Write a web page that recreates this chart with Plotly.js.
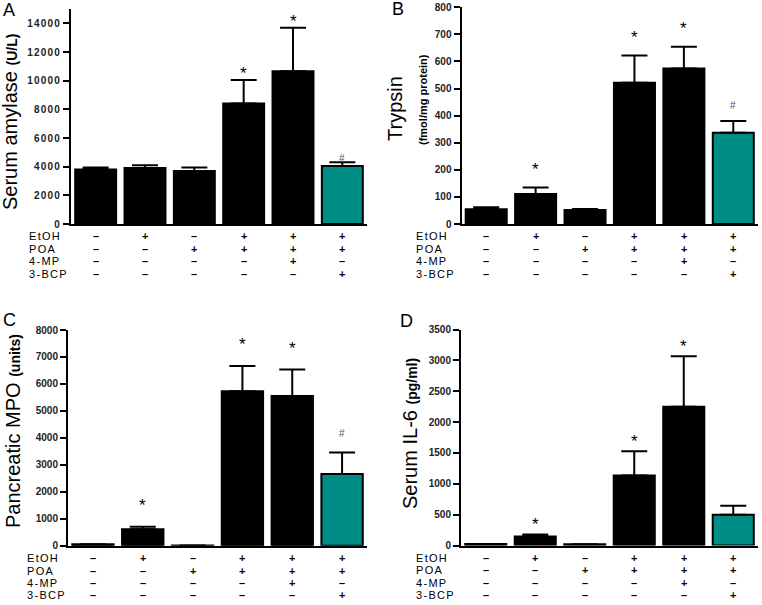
<!DOCTYPE html>
<html>
<head>
<meta charset="utf-8">
<script src="https://cdn.plot.ly/plotly-3.0.1.min.js"></script>
<style>
  body { margin: 0; padding: 0; background: #fff; }
  #chart { width: 762px; height: 605px; }
  .ytick text { letter-spacing: 1.2px; }
</style>
</head>
<body>
<div id="chart"></div>
<script>
// ---------- data ----------
const groups = ['Control', 'EtOH', 'POA', 'EtOH+POA', 'EtOH+POA+4-MP', 'EtOH+POA+3-BCP'];
const rowNames = ['EtOH', 'POA', '4-MP', '3-BCP'];
const etohRow = ['–', '+', '–', '+', '+', '+'];
const poaRow  = ['–', '–', '+', '+', '+', '+'];
const mpRow   = ['–', '–', '–', '–', '+', '–'];
const bcpRow  = ['–', '–', '–', '–', '–', '+'];

const amylaseMean = [3800, 3900, 3700, 8400, 10650, 4050];
const amylaseErr  = [150, 200, 250, 1650, 3050, 250];
const amylaseSig  = ['', '', '', '*', '*', '#'];

const trypsinMean = [54, 111, 52, 521, 574, 337];
const trypsinErr  = [8, 24, 3, 101, 80, 43];
const trypsinSig  = ['', '*', '', '*', '*', '#'];

const mpoMean = [50, 607, 5, 5730, 5556, 2655];
const mpoErr  = [0, 97, 0, 937, 977, 802];
const mpoSig  = ['', '*', '', '*', '*', '#'];

const il6Mean = [25, 146, 22, 1136, 2247, 498];
const il6Err  = [0, 33, 0, 390, 821, 146];
const il6Sig  = ['', '*', '', '*', '*', ''];

// ---------- styling ----------
const W = 762, H = 605;
const FONT = 'Arial, "Liberation Sans", sans-serif';
const BLACK = '#000000';
const TEAL = '#008d88';
const barColors = [BLACK, BLACK, BLACK, BLACK, BLACK, TEAL];
const rows = [etohRow, poaRow, mpRow, bcpRow];

const px2x = p => p / W;
const px2y = p => 1 - p / H;

const panels = [
  { letter: 'A', mean: amylaseMean, err: amylaseErr, sig: amylaseSig, range: [0, 15000], dtick: 2000,
    xPx: [71, 367], yPx: [224, 9], starShift: 6, rowLabelX: 28,
    letterPos: [8.5, 10],
    titles: [{ text: 'Serum amylase <span style="font-size:14px;font-weight:bold">(U/L)</span>', x: 10, y: 122 }] },
  { letter: 'B', mean: trypsinMean, err: trypsinErr, sig: trypsinSig, range: [0, 800], dtick: 100,
    xPx: [461.5, 758], yPx: [224, 7.3], starShift: 18, rowLabelX: 415,
    letterPos: [398, 9],
    titles: [{ text: 'Trypsin', x: 395, y: 109 },
             { text: '<b>(fmol/mg protein)</b>', x: 423, y: 100, size: 11 }] },
  { letter: 'C', mean: mpoMean, err: mpoErr, sig: mpoSig, range: [0, 8000], dtick: 1000,
    xPx: [68, 367], yPx: [545.7, 330], starShift: 21, rowLabelX: 26,
    letterPos: [9, 320],
    titles: [{ text: 'Pancreatic MPO <span style="font-size:14px;font-weight:bold">(units)</span>', x: 13, y: 431 }] },
  { letter: 'D', mean: il6Mean, err: il6Err, sig: il6Sig, range: [0, 3500], dtick: 500,
    xPx: [461, 758], yPx: [545.5, 329.5], starShift: 10, rowLabelX: 415,
    letterPos: [406, 321],
    titles: [{ text: 'Serum IL-6 <span style="font-size:14px;font-weight:bold">(pg/ml)</span>', x: 410, y: 434 }] }
];

const traces = [];
const annotations = [];
const layout = {
  width: W, height: H,
  margin: { l: 0, r: 0, t: 0, b: 0 },
  paper_bgcolor: '#ffffff', plot_bgcolor: '#ffffff',
  showlegend: false,
  bargap: 0.17,
  font: { family: FONT, color: '#000' },
  annotations: annotations
};

panels.forEach((p, i) => {
  const n = i === 0 ? '' : String(i + 1);
  const xa = 'x' + n, ya = 'y' + n;
  traces.push({
    type: 'bar', x: groups, y: p.mean, xaxis: xa, yaxis: ya,
    marker: { color: barColors, line: { color: BLACK, width: 2 } },
    error_y: { type: 'data', symmetric: false, array: p.err, arrayminus: p.err.map(() => 0),
               color: BLACK, thickness: 2, width: 13 },
    hoverinfo: 'skip'
  });
  layout['xaxis' + n] = {
    domain: [px2x(p.xPx[0]), px2x(p.xPx[1])], anchor: ya,
    type: 'category', categoryorder: 'array', categoryarray: groups,
    range: [-0.5, 5.5], showline: true, linecolor: BLACK, linewidth: 2,
    ticks: '', showticklabels: false, showgrid: false, zeroline: false, fixedrange: true
  };
  layout['yaxis' + n] = {
    domain: [px2y(p.yPx[0]), px2y(p.yPx[1])], anchor: xa,
    range: p.range, dtick: p.dtick, tick0: 0, tickformat: 'd',
    showline: true, linecolor: BLACK, linewidth: 2,
    ticks: 'outside', ticklen: 6, tickwidth: 2, tickcolor: BLACK,
    tickfont: { family: FONT, size: 10, weight: 'bold', color: '#222' },
    showgrid: false, zeroline: false, fixedrange: true
  };

  // significance markers
  p.sig.forEach((s, k) => {
    if (!s) return;
    annotations.push({
      xref: xa, yref: ya, x: groups[k], y: p.mean[k] + p.err[k],
      text: s, showarrow: false, xanchor: 'center', yanchor: 'middle',
      yshift: p.starShift + (s === '#' ? -2 : 0),
      font: s === '#' ? { family: FONT, size: 10, color: '#555' } : { family: FONT, size: 17, color: BLACK }
    });
  });

  // treatment rows
  rows.forEach((row, r) => {
    const yc = p.yPx[0] + 12.5 + r * 12.4;
    annotations.push({
      xref: 'paper', yref: 'paper', x: px2x(p.rowLabelX), y: px2y(yc),
      text: '<span style="letter-spacing:1.3px">' + rowNames[r] + '</span>',
      showarrow: false, xanchor: 'left', yanchor: 'middle', borderpad: 0,
      font: { family: FONT, size: 11, color: BLACK }
    });
    row.forEach((sgn, k) => {
      annotations.push({
        xref: xa, yref: 'paper', x: groups[k], y: px2y(yc),
        text: sgn, showarrow: false, xanchor: 'center', yanchor: 'middle', borderpad: 0,
        font: { family: FONT, size: 11, weight: 'bold', color: BLACK }
      });
    });
  });

  // axis titles
  p.titles.forEach(t => {
    annotations.push({
      xref: 'paper', yref: 'paper', x: px2x(t.x), y: px2y(t.y),
      text: t.text, textangle: -90, showarrow: false, xanchor: 'center', yanchor: 'middle',
      font: { family: FONT, size: t.size || 20, color: BLACK }
    });
  });

  // panel letter
  annotations.push({
    xref: 'paper', yref: 'paper', x: px2x(p.letterPos[0]), y: px2y(p.letterPos[1]),
    text: p.letter, showarrow: false, xanchor: 'center', yanchor: 'middle',
    font: { family: FONT, size: 18, color: BLACK }
  });
});

Plotly.newPlot('chart', traces, layout, { staticPlot: true, displayModeBar: false });
</script>
</body>
</html>
